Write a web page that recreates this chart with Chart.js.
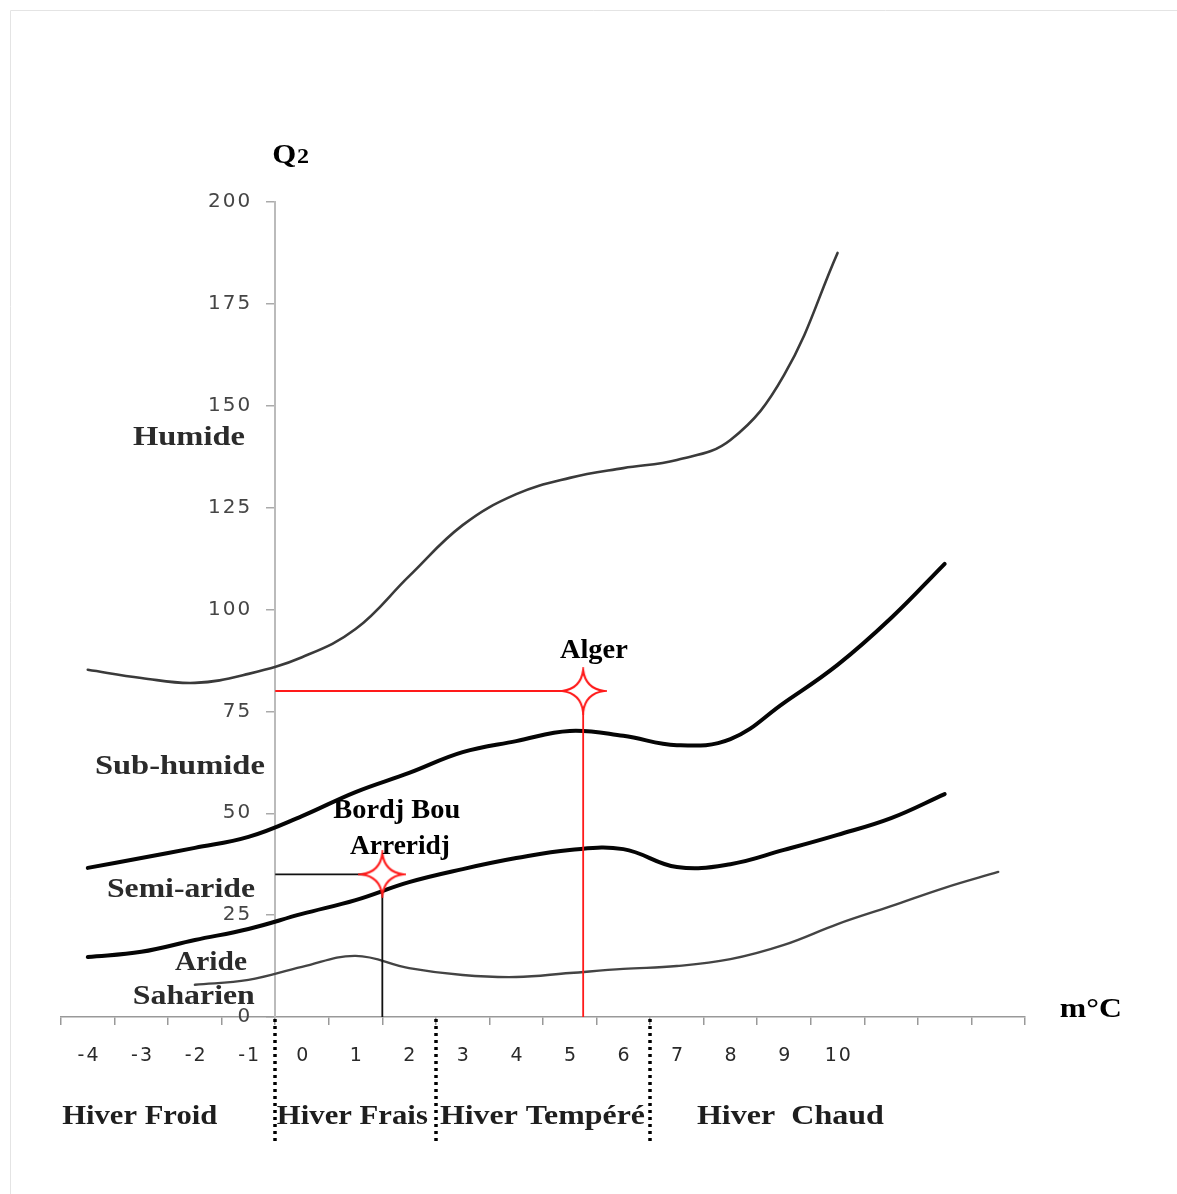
<!DOCTYPE html>
<html>
<head>
<meta charset="utf-8">
<title>Climagramme d'Emberger</title>
<script src="https://cdn.jsdelivr.net/npm/chart.js@4/dist/chart.umd.min.js"></script>
<style>
  html, body { margin: 0; padding: 0; background: #fff; }
  #wrap { position: relative; width: 1177px; height: 1194px; }
</style>
</head>
<body>
<div id="wrap"><canvas id="chart"></canvas></div>
<script>
// m : moyenne des minima du mois le plus froid (°C)
const temps = [-4, -3, -2, -1, 0, 1, 2, 3, 4, 5, 6, 7, 8, 9, 10, 11, 12, 13];
const tickLabels = ['-4', '-3', '-2', '-1', '0', '1', '2', '3', '4', '5', '6', '7', '8', '9', '10'];
const yTicks = [0, 25, 50, 75, 100, 125, 150, 175, 200];

// Limites de Q2 entre étages bioclimatiques (null : hors tracé)
const limHumide    = [85.2, 83.2, 82.0, 84.2, 88.3, 95.2, 108.2, 120.7, 128.3, 132.3, 134.7, 136.7, 141.6, 157.5, 187.5, null, null, null];
const limSubHumide = [36.6, 39.0, 41.5, 44.2, 49.3, 55.2, 59.9, 65.0, 67.7, 70.2, 69.0, 66.7, 68.2, 77.1, 86.4, 97.9, 111.2, null];
const limSemiAride = [14.7, 16.0, 18.9, 21.6, 25.3, 28.7, 33.1, 36.3, 39.0, 41.0, 41.2, 36.8, 37.5, 41.0, 44.7, 48.8, 54.7, null];
const limAride     = [null, null, 7.9, 9.1, 12.3, 15.0, 12.0, 10.3, 9.8, 10.8, 11.8, 12.5, 14.2, 17.7, 22.8, 27.2, 31.7, 35.6];

// Stations
const stationNames = ['Alger', 'Bordj Bou Arreridj'];
const stationM  = [5.25, 1.5];
const stationQ2 = [80, 35];

// Étages et types d'hiver
const zoneNames   = ['Humide', 'Sub-humide', 'Semi-aride', 'Aride', 'Saharien'];
const winterNames = ['Hiver Froid', 'Hiver Frais', 'Hiver Tempéré', 'Hiver  Chaud'];
const winterLimits = [-0.5, 2.5, 6.5];

// ---- styles ----
const yAxisAt = -0.5;
const yLabelsAt = -0.93;
const stationColors = ['#ff1a1a', '#111111'];
const serif = '"Liberation Serif", "Times New Roman", serif';
const sans = '"DejaVu Sans", Verdana, sans-serif';

function series(values) {
  return temps.map((t, i) => ({ x: t, y: values[i] })).filter(p => p.y !== null);
}

function makeStar(r, color) {
  const size = Math.ceil(r * 2 + 6);
  const c = document.createElement('canvas');
  c.width = size; c.height = size;
  const g = c.getContext('2d');
  const cx = size / 2, cy = size / 2, d = r * 0.16;
  const tips = [0, 1, 2, 3].map(k => -Math.PI / 2 + k * Math.PI / 2);
  g.beginPath();
  g.moveTo(cx + r * Math.cos(tips[0]), cy + r * Math.sin(tips[0]));
  for (let k = 0; k < 4; k++) {
    const a2 = tips[(k + 1) % 4];
    const mid = tips[k] + Math.PI / 4;
    g.quadraticCurveTo(cx + d * Math.cos(mid), cy + d * Math.sin(mid), cx + r * Math.cos(a2), cy + r * Math.sin(a2));
  }
  g.closePath();
  g.fillStyle = '#ffffff';
  g.fill();
  g.lineWidth = 2;
  g.strokeStyle = color;
  g.stroke();
  return c;
}
const starImg = makeStar(21, '#ff1a1a');

const curveStyle = (color, width) => ({
  type: 'line', borderColor: color, borderWidth: width, pointRadius: 0,
  tension: 0.4, fill: false, order: 3, borderCapStyle: 'round', borderJoinStyle: 'round'
});

const datasets = [
  Object.assign({ label: 'Humide', data: series(limHumide) }, curveStyle('#3a3a3a', 2.6)),
  Object.assign({ label: 'Sub-humide', data: series(limSubHumide) }, curveStyle('#050505', 4)),
  Object.assign({ label: 'Semi-aride', data: series(limSemiAride) }, curveStyle('#050505', 4)),
  Object.assign({ label: 'Aride', data: series(limAride) }, curveStyle('#444444', 2.4)),
];

stationNames.forEach((name, i) => {
  datasets.push({
    type: 'line', label: name + ' (repères)',
    data: [{ x: yAxisAt, y: stationQ2[i] }, { x: stationM[i], y: stationQ2[i] }, { x: stationM[i], y: 0 }],
    borderColor: stationColors[i], borderWidth: 1.8, pointRadius: 0, tension: 0, fill: false, order: 2
  });
});

datasets.push({
  type: 'scatter', label: 'Stations',
  data: stationNames.map((n, i) => ({ x: stationM[i], y: stationQ2[i] })),
  pointStyle: starImg, pointRadius: 21, order: 1
});

// Textes, limites des types d'hiver et cadre
const annotations = {
  id: 'annotations',
  beforeDraw(chart) {
    const ctx = chart.ctx;
    ctx.save();
    ctx.strokeStyle = '#e4e4e4';
    ctx.lineWidth = 1;
    ctx.beginPath();
    ctx.moveTo(10.5, chart.height); ctx.lineTo(10.5, 10.5); ctx.lineTo(chart.width, 10.5);
    ctx.stroke();
    ctx.restore();
    // slightly open spacing for the axis numbers
    ctx.letterSpacing = '2px';
  },
  afterDraw(chart) {
    const { ctx, chartArea } = chart;
    const xs = chart.scales.x, ys = chart.scales.y;
    const px = v => xs.getPixelForValue(v);
    const py = v => ys.getPixelForValue(v);

    // label centred on (cx, cy), stretched to the given width
    function label(text, cx, cy, size, width, color, baseline) {
      ctx.font = 'bold ' + size + 'px ' + serif;
      const w = ctx.measureText(text).width;
      ctx.save();
      ctx.translate(cx, cy);
      ctx.scale(width / w, 1);
      ctx.fillStyle = color;
      ctx.textAlign = 'center';
      ctx.textBaseline = baseline || 'middle';
      ctx.fillText(text, 0, 0);
      ctx.restore();
    }

    ctx.save();
    ctx.letterSpacing = '0px';

    // dotted limits between winter types
    ctx.strokeStyle = '#000';
    ctx.lineWidth = 3.5;
    ctx.setLineDash([3, 4]);
    winterLimits.forEach(v => {
      const x = Math.round(px(v));
      ctx.beginPath();
      ctx.moveTo(x, chartArea.bottom + 2);
      ctx.lineTo(x, chartArea.bottom + 128);
      ctx.stroke();
    });
    ctx.setLineDash([]);

    // bioclimatic stages
    const zonePos = [[-2.11, 142.1, 112], [-2.28, 61.3, 170], [-2.26, 31.2, 148], [-1.70, 13.3, 72], [-2.02, 4.9, 122]];
    zoneNames.forEach((n, i) => label(n, px(zonePos[i][0]), py(zonePos[i][1]), 27, zonePos[i][2], '#2b2b2b'));

    // stations
    label(stationNames[0], px(5.45), py(89.8), 27, 68, '#000');
    const parts = ['Bordj Bou', 'Arreridj'];
    label(parts[0], px(1.77), py(50.6), 27, 127, '#000');
    label(parts[1], px(1.83), py(41.7), 27, 100, '#000');

    // axis titles
    const qy = py(209.5);
    label('Q', px(-0.33), qy, 28, 24, '#000', 'alphabetic');
    label('2', px(0.02), qy, 20, 12, '#000', 'alphabetic');
    label('m°C', px(14.73), py(1.7), 27, 62, '#000');

    // winter types
    const wy = chartArea.bottom + 100;
    const winterPos = [[-3.03, 155], [0.94, 151], [4.49, 205], [9.12, 187]];
    winterNames.forEach((n, i) => label(n, px(winterPos[i][0]), wy, 27, winterPos[i][1], '#1e1e1e'));

    ctx.restore();
  }
};

const yRange = { type: 'linear', min: 0, max: 200, afterBuildTicks: s => { s.ticks = yTicks.map(v => ({ value: v })); } };

new Chart(document.getElementById('chart'), {
  type: 'line',
  data: { datasets },
  options: {
    responsive: true,
    maintainAspectRatio: false,
    devicePixelRatio: 1,
    animation: false,
    layout: { padding: { left: 61, right: 152, top: 202, bottom: 0 } },
    plugins: { legend: { display: false }, tooltip: { enabled: false } },
    scales: {
      x: {
        type: 'linear', min: -4.5, max: 13.5,
        afterBuildTicks: s => { s.ticks = temps.map(t => ({ value: t - 0.5 })).concat([{ value: 13.5 }]); },
        afterFit: s => { s.height = 177; },
        ticks: {
          callback: (v, i) => tickLabels[i] !== undefined ? tickLabels[i] : '',
          labelOffset: 28, padding: 20, autoSkip: false, maxRotation: 0,
          font: { family: sans, size: 19 }, color: '#2a2a2a'
        },
        grid: { drawOnChartArea: false, tickLength: 8, color: '#999', lineWidth: 1.5 },
        border: { color: '#999', width: 1.5 }
      },
      // vertical axis line and tick marks
      y: Object.assign({}, yRange, {
        position: { x: yAxisAt },
        ticks: { display: false },
        grid: { drawOnChartArea: false, tickLength: 8, color: '#aaa', lineWidth: 1.5 },
        border: { color: '#bbb', width: 2 }
      }),
      // its numbers, set back to the left of the tick marks
      yNumbers: Object.assign({}, yRange, {
        axis: 'y',
        position: { x: yLabelsAt },
        grid: { display: false },
        border: { display: false },
        ticks: { font: { family: sans, size: 20 }, color: '#454545' }
      })
    }
  },
  plugins: [annotations]
});
</script>
</body>
</html>
